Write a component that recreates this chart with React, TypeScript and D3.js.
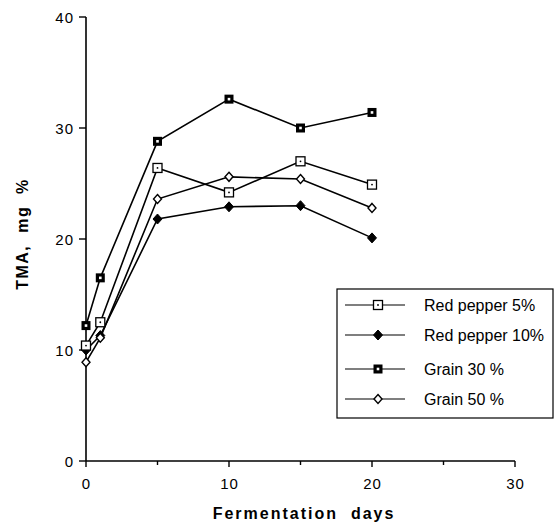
import React from "react";
import * as d3 from "d3";

const days = [0, 1, 5, 10, 15, 20];
const redPepper5 = [10.4, 12.5, 26.4, 24.2, 27.0, 24.9];
const redPepper10 = [10.0, 11.3, 21.8, 22.9, 23.0, 20.1];
const grain30 = [12.2, 16.5, 28.8, 32.6, 30.0, 31.4];
const grain50 = [8.9, 11.1, 23.6, 25.6, 25.4, 22.8];
const seriesNames = ["Red pepper 5%", "Red pepper 10%", "Grain 30 %", "Grain 50 %"];
const xTicks = [0, 10, 20, 30];
const xMinorTicks = [5, 15, 25];
const yTicks = [0, 10, 20, 30, 40];

const FONT = "'Liberation Sans', Arial, Helvetica, sans-serif";

function Marker({ kind, x, y }: { kind: number; x: number; y: number }) {
  if (kind === 0) {
    return (
      <g>
        <rect x={x - 4.5} y={y - 4.5} width={9} height={9} fill="#fff" stroke="#000" strokeWidth={1.3} />
        <circle cx={x} cy={y} r={0.9} fill="#000" />
      </g>
    );
  }
  if (kind === 1) {
    return <path d={`M${x},${y - 5}L${x + 4.5},${y}L${x},${y + 5}L${x - 4.5},${y}Z`} fill="#000" stroke="#000" strokeWidth={1} />;
  }
  if (kind === 2) {
    return (
      <g>
        <rect x={x - 4.5} y={y - 4.5} width={9} height={9} fill="#000" />
        <rect x={x - 1.3} y={y - 1.3} width={2.6} height={2.6} fill="#fff" />
      </g>
    );
  }
  return <path d={`M${x},${y - 4.5}L${x + 4},${y}L${x},${y + 4.5}L${x - 4},${y}Z`} fill="#fff" stroke="#000" strokeWidth={1.4} />;
}

export default function App() {
  const W = 557, H = 526;
  const x = d3.scaleLinear().domain([0, 30]).range([86, 515]);
  const y = d3.scaleLinear().domain([0, 40]).range([461, 17]);
  const allSeries = [redPepper5, redPepper10, grain30, grain50];
  const line = d3.line<number>().x((_, i) => x(days[i])).y((d) => y(d));
  const drawOrder = [1, 3, 0, 2];

  const legX = 337, legY = 289, legW = 216, legH = 129;
  const rowYs = [305, 335, 369, 399];

  return (
    <svg width={W} height={H} style={{ position: "absolute", left: 0, top: 0 }} fontFamily={FONT}>
      <rect width={W} height={H} fill="#fff" />
      {/* axes */}
      <line x1={x(0)} x2={x(0)} y1={y(40)} y2={y(0)} stroke="#000" strokeWidth={1.6} />
      <line x1={x(0)} x2={x(30)} y1={y(0)} y2={y(0)} stroke="#000" strokeWidth={1.6} />
      {yTicks.map((t) => (
        <g key={"y" + t}>
          <line x1={x(0) - 7} x2={x(0)} y1={y(t)} y2={y(t)} stroke="#000" strokeWidth={1.4} />
          <text x={x(0) - 12} y={y(t) + 5.5} textAnchor="end" fontSize={15} letterSpacing={1}>{t}</text>
        </g>
      ))}
      {xTicks.map((t) => (
        <g key={"x" + t}>
          <line x1={x(t)} x2={x(t)} y1={y(0)} y2={y(0) + 6} stroke="#000" strokeWidth={1.4} />
          <text x={x(t) + 0.5} y={489} textAnchor="middle" fontSize={15} letterSpacing={1}>{t}</text>
        </g>
      ))}
      {xMinorTicks.map((t) => (
        <line key={"m" + t} x1={x(t)} x2={x(t)} y1={y(0)} y2={y(0) + 4} stroke="#000" strokeWidth={1.4} />
      ))}
      <text x={304} y={519} textAnchor="middle" fontSize={16} fontWeight="bold" letterSpacing={2} style={{ whiteSpace: "pre" }}>{"Fermentation  days"}</text>
      <text transform="translate(28,234) rotate(-90)" textAnchor="middle" fontSize={16} fontWeight="bold" letterSpacing={1.5} style={{ whiteSpace: "pre" }}>{"TMA,  mg  %"}</text>
      {/* series */}
      {drawOrder.map((k) => (
        <path key={"l" + k} d={line(allSeries[k]) || ""} fill="none" stroke="#000" strokeWidth={1.6} />
      ))}
      {drawOrder.map((k) => (
        <g key={"m" + k}>
          {allSeries[k].map((v, i) => (
            <Marker key={i} kind={k} x={x(days[i])} y={y(v)} />
          ))}
        </g>
      ))}
      {/* legend */}
      <rect x={legX} y={legY} width={legW} height={legH} fill="#fff" stroke="#000" strokeWidth={1.2} />
      {seriesNames.map((n, k) => (
        <g key={"lg" + k}>
          <line x1={345} x2={405} y1={rowYs[k]} y2={rowYs[k]} stroke="#000" strokeWidth={1.2} />
          <Marker kind={k} x={378} y={rowYs[k]} />
          <text x={424} y={rowYs[k] + 5.5} fontSize={16}>{n}</text>
        </g>
      ))}
    </svg>
  );
}
